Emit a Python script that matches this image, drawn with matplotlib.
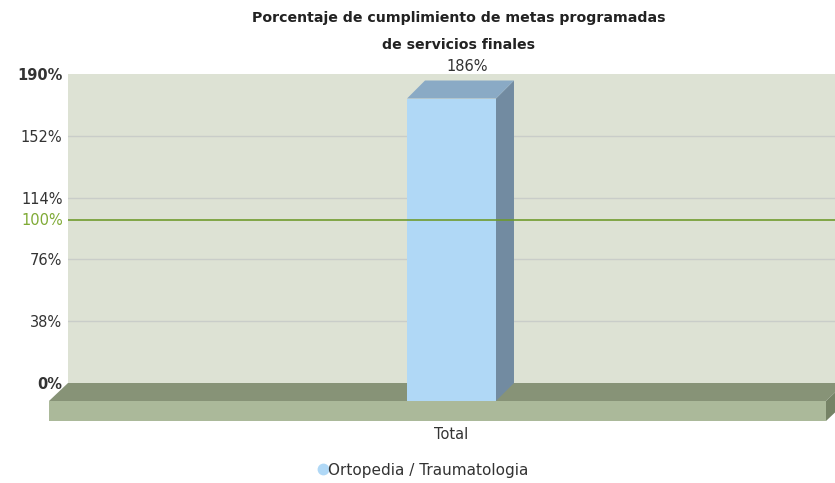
import matplotlib
matplotlib.use("Agg")
import matplotlib.pyplot as plt
from matplotlib.patches import Polygon
from matplotlib.lines import Line2D
from matplotlib.transforms import IdentityTransform

# data
categories = ["Total"]
series_name = "Ortopedia / Traumatologia"
values = [186]
tick_values = [0, 38, 76, 114, 152, 190]
tick_labels = ["0%", "38%", "76%", "114%", "152%", "190%"]
target_value = 100
target_label = "100%"
title_lines = ["Porcentaje de cumplimiento de metas programadas",
               "de servicios finales"]

W, H, DPI = 835, 483, 100
DEPTH = 18          # 3d depth in pixels
FLOOR_THICK = 20

WALL = "#DDE2D4"
FLOOR_TOP = "#879377"
FLOOR_FRONT = "#ABB99A"
FLOOR_SIDE = "#768366"
BAR_FRONT = "#B0D8F6"
BAR_TOP = "#8AAAC5"
BAR_SIDE = "#728BA1"
GRID = "#C9CDC9"
GREEN = "#6E9A2A"
TEXT = "#333333"
FS = 10.5

fig = plt.figure(figsize=(W / DPI, H / DPI), dpi=DPI)
ax = fig.add_axes([68 / W, (H - 383) / H, (W - 68) / W, (383 - 74) / H])
ax.set_facecolor(WALL)
for s in ax.spines.values():
    s.set_visible(False)
ax.set_xlim(-0.5, len(categories) - 0.5)
ax.set_ylim(0, tick_values[-1])

# grid on back wall
for v in tick_values[1:-1]:
    ax.axhline(v, color=GRID, lw=1, zorder=1)

ax.set_yticks(tick_values)
ax.set_yticklabels(tick_labels)
ax.tick_params(axis="y", length=0, pad=4, labelsize=FS, labelcolor=TEXT)
for lbl, v in zip(ax.get_yticklabels(), tick_values):
    if v in (tick_values[0], tick_values[-1]):
        lbl.set_fontweight("bold")

xpos = list(range(len(categories)))
ax.set_xticks(xpos)
ax.set_xticklabels(categories)
ax.tick_params(axis="x", length=0, pad=32, labelsize=FS, labelcolor=TEXT)

fig.canvas.draw()


def to_px(tr, pts, offs):
    out = []
    for (x, y), (dx, dy) in zip(pts, offs):
        px, py = tr.transform((x, y))
        out.append((px + dx, py + dy))
    return out


def add_poly(pts, color, z):
    ax.add_patch(Polygon(pts, closed=True, facecolor=color, edgecolor="none",
                         transform=IdentityTransform(), clip_on=False, zorder=z))


# floor
ta = ax.transAxes
fl_top = to_px(ta, [(0, 0), (1, 0), (1, 0), (0, 0)],
               [(0, 0), (10, 0), (-9, -DEPTH), (-19, -DEPTH)])
fl_front = to_px(ta, [(0, 0), (1, 0), (1, 0), (0, 0)],
                 [(-19, -DEPTH), (-9, -DEPTH), (-9, -DEPTH - FLOOR_THICK),
                  (-19, -DEPTH - FLOOR_THICK)])
fl_side = to_px(ta, [(1, 0), (1, 0), (1, 0), (1, 0)],
                [(-9, -DEPTH), (10, 0), (10, -FLOOR_THICK),
                 (-9, -DEPTH - FLOOR_THICK)])
add_poly(fl_top, FLOOR_TOP, 2)
add_poly(fl_front, FLOOR_FRONT, 2)
add_poly(fl_side, FLOOR_SIDE, 2)

# bars
td = ax.transData
bw = 0.116
for x, v in zip(xpos, values):
    l, r = x - bw / 2, x + bw / 2
    front = to_px(td, [(l, 0), (r, 0), (r, v), (l, v)],
                  [(0, -DEPTH)] * 4)
    top = to_px(td, [(l, v), (r, v), (r, v), (l, v)],
                [(0, -DEPTH), (0, -DEPTH), (DEPTH, 0), (DEPTH, 0)])
    side = to_px(td, [(r, 0), (r, v), (r, v), (r, 0)],
                 [(0, -DEPTH), (0, -DEPTH), (DEPTH, 0), (DEPTH, 0)])
    add_poly(side, BAR_SIDE, 3)
    add_poly(top, BAR_TOP, 3)
    add_poly(front, BAR_FRONT, 3)
    ax.annotate(f"{v}%", xy=(x, v), xytext=(DEPTH - 2, 14),
                textcoords="offset pixels", ha="center", va="center",
                fontsize=FS, color=TEXT, annotation_clip=False)

# target line
ax.axhline(target_value, color=GREEN, lw=1.3, alpha=0.9, zorder=4)
ax.text(-0.006, target_value, target_label, transform=ax.get_yaxis_transform(),
        ha="right", va="center", fontsize=FS, color="#7FAA35")

# title
for i, line in enumerate(title_lines):
    fig.text(459 / W, (H - 18 - 27 * i) / H, line, ha="center", va="center",
             fontsize=10.2, fontweight="bold", color="#222222")

handle = Line2D([], [], marker="o", ls="none", markersize=8.5,
                markerfacecolor=BAR_FRONT, markeredgecolor="none")
fig.legend([handle], [series_name], loc="center",
           bbox_to_anchor=(424 / W, (H - 470) / H), frameon=False,
           handlelength=0.5, handletextpad=0.1, fontsize=11,
           labelcolor=TEXT)

fig.savefig("out.png", dpi=DPI)
